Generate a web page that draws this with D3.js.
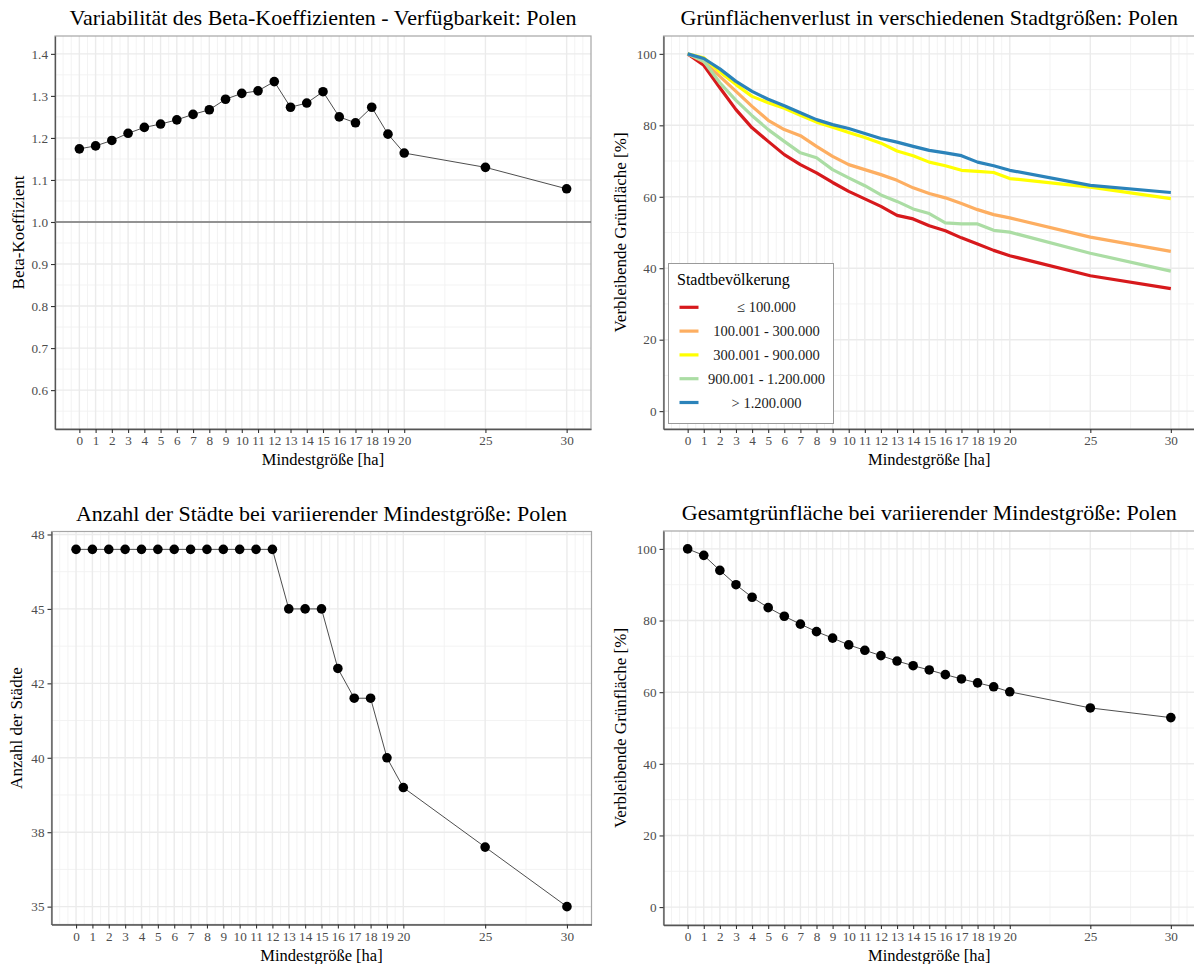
<!DOCTYPE html>
<html><head><meta charset="utf-8">
<script src="https://cdn.jsdelivr.net/npm/d3@7"></script>
<style>
body{margin:0;background:#fff;}
svg{display:block;font-family:"Liberation Serif","DejaVu Serif",serif;}
</style></head>
<body><svg id="c" width="1194" height="964"></svg>
<script>
// ---------- data ----------
const minSize = [0,1,2,3,4,5,6,7,8,9,10,11,12,13,14,15,16,17,18,19,20,25,30];
const xTickLabels = minSize.map(String);

const betaCoef = [1.174,1.181,1.194,1.211,1.225,1.233,1.243,1.256,1.267,1.292,1.306,1.312,1.334,1.273,1.283,1.310,1.250,1.236,1.273,1.209,1.164,1.130,1.079];
const betaTicks = [0.6,0.7,0.8,0.9,1.0,1.1,1.2,1.3,1.4];
const betaTickLabels = ["0.6","0.7","0.8","0.9","1.0","1.1","1.2","1.3","1.4"];

const popClasses = ["\u2264 100.000","100.001 - 300.000","300.001 - 900.000","900.001 - 1.200.000","> 1.200.000"];
const popColors = ["#d7191c","#fdae61","#ffff00","#abdda4","#2b83ba"];
const green_le100k   = [100,96.8,90.5,84.4,79.3,75.5,71.8,69.0,66.7,64.0,61.5,59.4,57.3,54.8,53.8,51.9,50.5,48.5,46.8,45.0,43.5,37.9,34.3];
const green_100_300k = [100,97.8,93.7,89.5,85.3,81.4,78.8,77.1,74.1,71.3,69.0,67.6,66.2,64.6,62.5,60.9,59.7,58.1,56.4,55.0,54.1,48.7,44.7];
const green_300_900k = [100,98.9,94.9,91.4,88.1,86.3,84.8,82.8,80.9,79.5,78.0,76.6,75.0,72.8,71.5,69.7,68.7,67.4,67.1,66.8,65.1,62.7,59.5];
const green_900k_12m = [100,98.0,91.9,87.0,82.7,78.8,75.5,72.3,70.9,67.6,65.3,63.1,60.5,58.7,56.6,55.3,52.7,52.4,52.4,50.6,50.1,44.2,39.2];
const green_gt12m    = [100,98.7,95.8,92.3,89.5,87.3,85.5,83.5,81.6,80.2,79.1,77.7,76.3,75.3,74.1,73.0,72.3,71.5,69.7,68.7,67.4,63.2,61.2];
const pctTicks = [0,20,40,60,80,100];
const pctTickLabels = ["0","20","40","60","80","100"];

const cityCount = [47,47,47,47,47,47,47,47,47,47,47,47,47,45,45,45,43,42,42,40,39,37,35];
const cityTicks = [35,37.5,40,42.5,45,47.5];
const cityTickLabels = ["35","38","40","42","45","48"];

const totalGreen = [100,98.2,94.0,90.0,86.5,83.6,81.2,79.0,76.9,75.1,73.2,71.7,70.2,68.7,67.4,66.2,64.9,63.7,62.6,61.5,60.1,55.6,52.9];

// ---------- helpers ----------
const svg = d3.select("#c");
const xMinor = [-1,-0.5].concat(d3.range(0.5,20,1), [22.5,27.5,30.5,31]);

function panel(o){
  const g = svg.append("g");
  const xDom = [0 - 1.5, 30 + 1.5];
  const x = d3.scaleLinear().domain(xDom).range([o.left, o.right]);
  const span = o.yLim[1]-o.yLim[0];
  const y = d3.scaleLinear().domain([o.yLim[0]-0.05*span, o.yLim[1]+0.05*span]).range([o.bottom, o.top]);
  // minor grid
  const yStep = o.yTicks[1]-o.yTicks[0];
  const yMinor = [];
  const ext = [o.yTicks[0]-yStep].concat(o.yTicks, [o.yTicks[o.yTicks.length-1]+yStep]);
  for (let i=0;i<ext.length-1;i++) yMinor.push((ext[i]+ext[i+1])/2);
  const yd = y.domain();
  g.append("g").selectAll("line").data(yMinor.filter(v=>v>=yd[0]&&v<=yd[1])).join("line")
    .attr("x1",o.left).attr("x2",o.right).attr("y1",d=>y(d)).attr("y2",d=>y(d))
    .attr("stroke","#f2f2f2").attr("stroke-width",0.9);
  g.append("g").selectAll("line").data(xMinor).join("line")
    .attr("y1",o.top).attr("y2",o.bottom).attr("x1",d=>x(d)).attr("x2",d=>x(d))
    .attr("stroke","#f2f2f2").attr("stroke-width",0.9);
  // major grid
  g.append("g").selectAll("line").data(o.yTicks).join("line")
    .attr("x1",o.left).attr("x2",o.right).attr("y1",d=>y(d)).attr("y2",d=>y(d))
    .attr("stroke","#ebebeb").attr("stroke-width",1.4);
  g.append("g").selectAll("line").data(minSize).join("line")
    .attr("y1",o.top).attr("y2",o.bottom).attr("x1",d=>x(d)).attr("x2",d=>x(d))
    .attr("stroke","#ebebeb").attr("stroke-width",1.4);
  // border
  g.append("rect").attr("x",o.left).attr("y",o.top).attr("width",o.right-o.left).attr("height",o.bottom-o.top)
    .attr("fill","none").attr("stroke","#a6a6a6").attr("stroke-width",1.2);
  // axes
  const xa = g.append("g").attr("transform",`translate(0,${o.bottom})`)
    .call(d3.axisBottom(x).tickValues(minSize).tickFormat((d,i)=>xTickLabels[i]).tickSize(4).tickSizeOuter(0).tickPadding(3));
  const ya = g.append("g").attr("transform",`translate(${o.left},0)`)
    .call(d3.axisLeft(y).tickValues(o.yTicks).tickFormat((d,i)=>o.yLabels[i]).tickSize(4).tickSizeOuter(0).tickPadding(3));
  [xa,ya].forEach(a=>{
    a.select(".domain").attr("stroke","#555").attr("stroke-width",1.3);
    a.selectAll(".tick line").attr("stroke","#333").attr("stroke-width",1.1);
    a.selectAll(".tick text").attr("fill","#4d4d4d").attr("font-size",13.2).attr("font-family","Liberation Serif");
  });
  // titles
  svg.append("text").attr("x",(o.left+o.right)/2).attr("y",o.top-11).attr("text-anchor","middle")
    .attr("font-size",22).attr("fill","#000").text(o.title);
  svg.append("text").attr("x",(o.left+o.right)/2).attr("y",o.bottom+36).attr("text-anchor","middle")
    .attr("font-size",16.5).attr("fill","#000").text("Mindestgröße [ha]");
  svg.append("text").attr("transform",`translate(${o.yTitleX},${(o.top+o.bottom)/2}) rotate(-90)`)
    .attr("text-anchor","middle").attr("dominant-baseline","middle").attr("font-size",17).attr("fill","#000").text(o.yTitle);
  return {g,x,y};
}

function pointLine(p, vals){
  const line = d3.line().x((d,i)=>p.x(minSize[i])).y(d=>p.y(d));
  p.g.append("path").datum(vals).attr("d",line).attr("fill","none").attr("stroke","#3a3a3a").attr("stroke-width",0.9);
  p.g.append("g").selectAll("circle").data(vals).join("circle")
    .attr("cx",(d,i)=>p.x(minSize[i])).attr("cy",d=>p.y(d)).attr("r",4.8).attr("fill","#000");
}

// ---------- panel 1 ----------
const p1 = panel({left:55,right:591,top:36,bottom:429,yLim:[0.55,1.4],yTicks:betaTicks,yLabels:betaTickLabels,
  title:"Variabilität des Beta-Koeffizienten - Verfügbarkeit: Polen",yTitle:"Beta-Koeffizient",yTitleX:20});
p1.g.append("line").attr("x1",55).attr("x2",591).attr("y1",p1.y(1)).attr("y2",p1.y(1))
  .attr("stroke","#737373").attr("stroke-width",1.3);
pointLine(p1, betaCoef);

// ---------- panel 2 ----------
const p2 = panel({left:663.5,right:1195,top:36,bottom:429,yLim:[0,100],yTicks:pctTicks,yLabels:pctTickLabels,
  title:"Grünflächenverlust in verschiedenen Stadtgrößen: Polen",yTitle:"Verbleibende Grünfläche [%]",yTitleX:622});
const series = [green_le100k,green_100_300k,green_300_900k,green_900k_12m,green_gt12m];
const l2 = d3.line().x((d,i)=>p2.x(minSize[i])).y(d=>p2.y(d));
series.forEach((s,k)=>{
  p2.g.append("path").datum(s).attr("d",l2).attr("fill","none").attr("stroke",popColors[k]).attr("stroke-width",3.2)
    .attr("stroke-linejoin","round");
});
// legend
const lg = svg.append("g");
lg.append("rect").attr("x",668.5).attr("y",263.5).attr("width",165).attr("height",160)
  .attr("fill","#fff").attr("stroke","#9a9a9a").attr("stroke-width",1);
lg.append("text").attr("x",677).attr("y",285).attr("font-size",16).attr("fill","#000").text("Stadtbevölkerung");
popClasses.forEach((c,k)=>{
  const yy = 307.3 + k*23.8;
  lg.append("line").attr("x1",679.5).attr("x2",698.5).attr("y1",yy).attr("y2",yy)
    .attr("stroke",popColors[k]).attr("stroke-width",3.2);
  lg.append("text").attr("x",766.5).attr("y",yy).attr("dy","0.35em").attr("text-anchor","middle")
    .attr("font-size",14.5).attr("fill","#1a1a1a").text(c);
});

// ---------- panel 3 ----------
const p3 = panel({left:51.5,right:591.5,top:531.5,bottom:924.5,yLim:[35,47],yTicks:cityTicks,yLabels:cityTickLabels,
  title:"Anzahl der Städte bei variierender Mindestgröße: Polen",yTitle:"Anzahl der Städte",yTitleX:18});
pointLine(p3, cityCount);

// ---------- panel 4 ----------
const p4 = panel({left:663.5,right:1195,top:531,bottom:925,yLim:[0,100],yTicks:pctTicks,yLabels:pctTickLabels,
  title:"Gesamtgrünfläche bei variierender Mindestgröße: Polen",yTitle:"Verbleibende Grünfläche [%]",yTitleX:622});
pointLine(p4, totalGreen);
</script></body></html>
